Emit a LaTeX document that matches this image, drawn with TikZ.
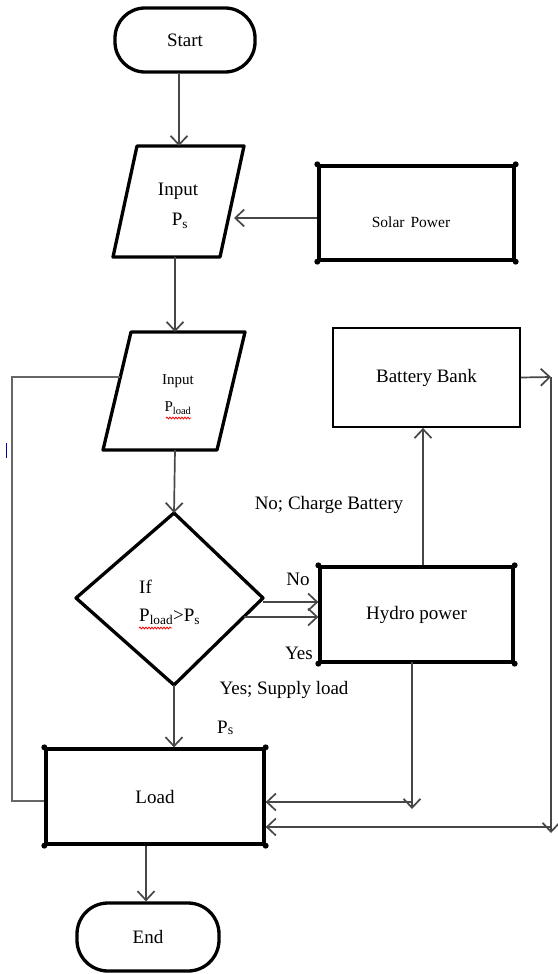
\documentclass[tikz,border=0pt]{standalone}
\usepackage{fontspec}
\setmainfont{Liberation Serif}
\usetikzlibrary{arrows.meta,decorations.pathmorphing}
\begin{document}
\begin{tikzpicture}[x=1pt,y=-1pt,
 thickbox/.style={draw=black,line width=3.3pt},
 thinbox/.style={draw=black,line width=1.8pt},
 conn/.style={draw=black!72,line width=1.7pt},
 arr/.style={conn,-{Straight Barb[length=9pt,width=17pt,line width=1.7pt]}},
 loopline/.style={draw=black!60,line width=1.3pt},
 lbl/.style={font=\fontsize{19}{22}\selectfont,inner sep=0pt,align=center},
 small/.style={font=\fontsize{15}{18}\selectfont,inner sep=0pt,align=center},
 dotc/.style={circle,fill=black,inner sep=0pt,minimum size=6pt},
 spell/.style={draw=red,line width=0.8pt,decorate,decoration={snake,amplitude=0.9pt,segment length=3pt}}]
\useasboundingbox (0,0) rectangle (557,974);

% ---------- terminals ----------
\node[thickbox,rounded corners=30pt,minimum width=140pt,minimum height=64pt,lbl] (start) at (185,40) {Start};
\node[thickbox,rounded corners=31pt,minimum width=142pt,minimum height=68pt,lbl] (end) at (148,937) {End};

% ---------- Input Ps ----------
\draw[thickbox,line join=round] (137,146) -- (244,146) -- (220,257) -- (113,257) -- cycle;
\coordinate (ipsT) at (179,146);
\coordinate (ipsB) at (175,257);
\coordinate (ipsR) at (234,218);
\node[lbl] (ipsA) at (178,191) {Input};
\node[lbl] (ipsB2) at (180,221) {P$_\mathrm{s}$};

% ---------- Solar Power ----------
\node[thickbox,minimum width=195pt,minimum height=94pt] (solar) at (416.5,213) {};
\node[font=\fontsize{15.5}{18}\selectfont,inner sep=0pt] (solart) at (411,222) {Solar\hspace{6pt}Power};
\foreach \c in {north west,north east,south west,south east} \node[dotc] at (solar.\c) {};

% ---------- Input Pload ----------
\draw[thickbox,line join=round] (131,332) -- (245,332) -- (217,450) -- (103,450) -- cycle;
\coordinate (iplT) at (175,332);
\coordinate (iplB) at (175,450);
\coordinate (iplL) at (120,377);
\node[small] (iplA) at (178,381) {Input};
\node[small] (iplB2) at (178,408) {P$_\mathrm{load}$};
\draw[spell] (166,418) -- (191,418);

% ---------- Decision ----------
\draw[thickbox,line join=round] (174,513) -- (263,598) -- (174,685) -- (76,598) -- cycle;
\coordinate (decT) at (174,513);
\coordinate (decB) at (174,685);
\coordinate (decR1) at (263,602);
\coordinate (decR2) at (244,617);
\node[lbl,anchor=west] (ift) at (139,587) {If};
\node[lbl,anchor=west] (cond) at (139,617) {P$_\mathrm{load}$>P$_\mathrm{s}$};
\draw[spell] (139,628) -- (172,628);

% ---------- Battery Bank ----------
\node[thinbox,minimum width=187pt,minimum height=99pt,lbl] (battery) at (426.5,377.5) {Battery Bank};

% ---------- Hydro power ----------
\node[thickbox,minimum width=193pt,minimum height=95pt,lbl] (hydro) at (416.5,614.5) {Hydro power};
\foreach \c in {north west,north east,south west,south east} \node[dotc] at (hydro.\c) {};

% ---------- Load ----------
\node[thickbox,minimum width=218pt,minimum height=95pt,lbl] (load) at (155,796.5) {Load};
\foreach \c in {north west,north east,south west,south east} \node[dotc] at (load.\c) {};

% ---------- labels ----------
\node[lbl] (nocharge) at (329,505) {No; Charge Battery};
\node[lbl] (no) at (298,579) {No};
\node[lbl] (yes) at (299,653) {Yes};
\node[lbl] (yessup) at (284,690) {Yes; Supply load};
\node[lbl,anchor=west] (psl) at (217,728) {P\raisebox{-1pt}{\fontsize{14}{14}\selectfont s}};

% ---------- connectors ----------
\draw[arr] (start.south -| ipsT) -- (ipsT);
\draw[arr] (solar.west |- ipsR) -- (ipsR);
\draw[arr] (ipsB) -- (iplT);
\draw[arr] (iplB) -- (decT);
\draw[arr] (decR1) -- (hydro.west |- decR1);
\draw[arr] (decR2) -- (hydro.west |- decR2);
\draw[arr] (decB) -- (load.north -| decB);
\draw[arr] (load.south -| 146,0) -- (end.north -| 146,0);

\coordinate (hT) at (423,567);
\draw[arr] (hydro.north -| hT) -- (battery.south -| hT);

\coordinate (bbR) at (551,377);
\coordinate (bbD) at (551,833);
\coordinate (bbL) at (551,827);
\draw[arr] (battery.east) -- (bbR);
\draw[arr] (bbR) -- (bbD);
\draw[arr] (bbL) -- (load.east |- bbL);

\coordinate (hB) at (412,662);
\coordinate (hD) at (412,809);
\coordinate (hL) at (412,802);
\draw[arr] (hB) -- (hD);
\draw[arr] (hL) -- (load.east |- hL);

% loop from Input Pload to Load
\coordinate (lp1) at (12,377);
\coordinate (lp2) at (12,801);
\draw[loopline] (iplL) -- (lp1) -- (lp2) -- (load.west |- lp2);

% stray mark
\draw[blue!70!black,line width=1pt] (6,443) -- (6,458);
\end{tikzpicture}
\end{document}
